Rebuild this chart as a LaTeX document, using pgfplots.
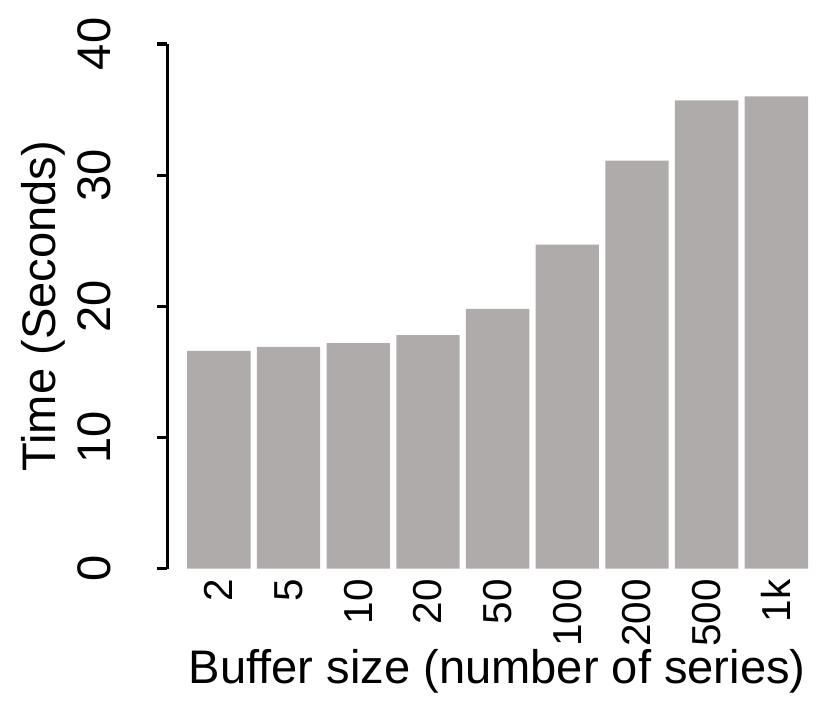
\documentclass[border=0pt]{standalone}
\usepackage{pgfplots}
\pgfplotsset{compat=1.18}
\usepackage{fontspec}
\setmainfont{Liberation Sans}
\definecolor{bargray}{RGB}{175,171,170}

\begin{document}
\fontsize{12}{14}\selectfont
\begin{tikzpicture}
    \begin{axis}[
        scale only axis,
        width=163.3pt,
        height=133.7pt,
        xmin=-0.742, xmax=8.4545,
        ymin=0, ymax=40,
        axis y line*=left,
        axis x line*=bottom,
        x axis line style={draw=none},
        y axis line style={line width=0.8pt},
        ytick={0,10,20,30,40},
        tick align=outside,
        major tick length=2.55pt,
        ytick style={line width=0.8pt, black},
        xtick style={draw=none},
        yticklabel style={xshift=-11.9pt, rotate=90, anchor=base, inner sep=0pt},
        /pgf/number format/assume math mode=true,
        xtick={0,...,8},
        xticklabels={2,5,10,20,50,100,200,500,1k},
        xticklabel style={rotate=90, anchor=east, inner sep=0pt, font=\fontsize{10.3}{12}\selectfont},
        ylabel={Time (Seconds)},
        ylabel style={at={(axis description cs:-0.175,0.5)}, anchor=base, rotate=0},
        xlabel={Buffer size (number of series)},
        xlabel style={at={(axis description cs:0.515,-0.218)}, anchor=base},
        clip=false,
    ]
        \addplot[ybar, bar width=0.909, fill=bargray, draw=none] coordinates {
            (0,16.6) (1,16.9) (2,17.2) (3,17.8) (4,19.8) (5,24.7) (6,31.1) (7,35.7) (8,36.0)
        };
    \end{axis}
    \path[use as bounding box] ([shift={(-42.6pt,-39.3pt)}]current axis.south west) rectangle ([shift={(5.6pt,11.2pt)}]current axis.north east);
\end{tikzpicture}
\end{document}
